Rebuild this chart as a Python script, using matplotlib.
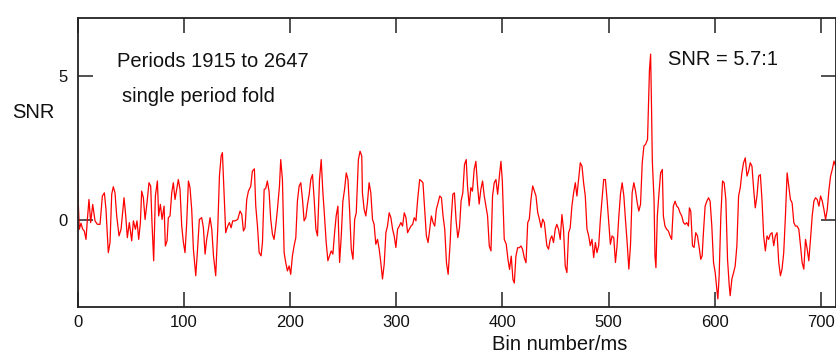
import matplotlib
matplotlib.use("Agg")
import matplotlib.pyplot as plt
from matplotlib import font_manager

# folded profile (bin, SNR)
bins = [
    0, 0.3, 1.7, 3.3, 4.9, 6.4, 8.0, 9.3, 10.8, 12.4, 14.3, 16.5, 18.7, 21.2, 23.4, 25.3, 26.8,
    29.0, 30.6, 32.2, 33.7, 35.3, 36.9, 39.1, 41.0, 42.5, 43.8, 45.4, 46.9, 48.8, 51.0, 52.6,
    54.5, 56.0, 57.6, 59.2, 60.4, 62.0, 63.6, 65.4, 67.3, 68.9, 70.1, 71.7, 73.3, 75.2, 76.4,
    78.0, 79.6, 81.5, 82.7, 84.3,
    85.5, 87.1, 88.7, 90.2, 91.8, 93.4, 94.9, 96.5, 98.1, 99.7, 101.2, 102.8, 104.4, 105.9,
    107.5, 109.1, 111.3, 112.8, 114.7, 116.9, 118.5, 120.1, 121.6, 123.2, 124.8, 126.4, 128.0,
    130.1, 132.0, 133.6, 135.2, 136.4, 138.0, 139.5, 141.4, 143.0, 144.6, 146.1, 148.3, 150.8,
    153.0, 154.6, 156.2, 157.7, 159.3, 160.9, 163.1, 164.6, 166.5, 167.8, 169.4, 171.0, 172.8,
    174.1, 175.7,
    177.2, 178.7, 180.3, 181.9, 183.5, 185.0, 186.6, 188.2, 190.1, 191.3, 192.9, 194.5, 196.0,
    197.6, 199.2, 200.7, 202.3, 203.9, 205.5, 207.0, 208.6, 210.2, 211.8, 213.3, 214.9, 216.5,
    218.1, 219.6, 221.2, 222.8, 224.4, 225.9, 227.8, 229.4, 231.0, 232.5, 234.1, 235.7, 237.3,
    238.8, 240.4, 242.0, 243.5, 245.1, 246.7, 248.3, 249.8, 251.4, 253.0, 254.6, 256.1, 257.7,
    259.3, 260.9, 262.4,
    264.4, 266.0, 267.6, 268.2, 269.8, 271.4, 272.9, 274.5, 276.1, 277.7, 279.2, 280.8, 282.4,
    284.0, 285.5, 287.1, 288.7, 290.3, 291.8, 293.4, 295.0, 296.6, 298.1, 299.7, 301.3, 302.9,
    304.4, 306.0, 307.6, 309.2, 310.7, 312.3, 313.9, 315.5, 317.0, 318.6, 320.2, 322.1, 323.7,
    325.2, 326.8, 328.4, 330.0, 331.5, 333.1, 334.7, 336.3, 337.8, 339.4, 341.0, 342.6, 344.1,
    345.7, 347.3, 348.9,
    350.8, 351.7, 353.3, 354.8, 356.4, 358.0, 359.6, 361.1, 362.7, 364.3, 365.9, 367.1, 368.7,
    370.3, 371.8, 373.4, 375.0, 376.6, 378.1, 379.7, 381.3, 382.9, 384.4, 386.0, 387.6, 389.2,
    390.7, 392.3, 393.9, 395.5, 397.3, 398.6, 399.9, 401.7, 403.6, 405.2, 406.7, 408.3, 409.9,
    411.2, 412.7, 414.3, 415.9, 417.5, 419.0, 420.6, 422.2, 423.8, 425.3, 426.9, 428.5, 430.1,
    431.6, 433.2, 434.8, 436.4, 437.9, 439.5,
    441.8, 443.4, 445.0, 446.5, 448.1, 449.7, 451.2, 452.8, 454.4, 456.0, 457.5, 459.1, 460.7,
    462.3, 463.8, 465.4, 467.0, 468.6, 470.1, 471.7, 473.3, 474.9, 476.4, 478.0, 479.6, 481.2,
    482.7, 484.3, 485.9, 487.5, 489.0, 490.6, 492.2, 493.8, 495.3, 496.9, 498.5, 500.1, 501.6,
    503.2, 504.8, 506.4, 507.9, 509.5, 511.1, 512.7, 514.3, 515.8, 517.4, 519.0, 520.6, 522.1,
    523.7, 525.3, 526.9, 528.4, 530.0, 531.6, 533.2, 534.8,
    536.6, 537.6, 538.4, 539.5, 540.4, 541.1,
    542.7, 543.6, 544.5, 545.8, 547.4, 548.9, 550.5, 551.5, 553.0, 554.6, 556.2, 557.8, 559.3,
    560.9, 562.5, 564.1, 565.6, 567.2, 568.8, 570.4, 571.9, 573.5, 575.1, 576.0, 577.3, 578.9,
    580.4, 582.0, 583.6, 585.2, 586.7, 588.0, 589.2, 590.8, 592.4, 594.0, 595.5, 597.1, 598.7,
    600.3, 601.8, 602.8, 604.0, 605.6, 607.2, 608.7, 610.3, 611.9, 613.5, 614.4, 616.0, 617.6,
    619.1, 620.7, 622.3, 623.9, 625.4, 627.0, 628.6, 630.2, 631.7, 633.3, 634.9, 636.5, 638.0,
    639.6, 641.2, 642.8, 644.3, 645.9, 647.5, 649.1, 650.6, 652.2, 653.8, 655.4, 656.9, 658.5,
    660.1, 661.7, 663.2, 664.8, 666.4, 668.0, 669.5, 671.1, 672.7, 674.3, 675.8, 677.4, 679.0,
    680.6, 682.1, 683.7, 685.3, 686.9, 688.4, 690.0, 691.6, 693.2, 694.7, 696.3, 697.9, 699.5,
    701.1, 702.6, 704.2, 705.8, 707.4, 708.9, 710.5, 712.1, 713.7, 714.6,
]
snr = [
    1.87, 1.01, -0.31, -0.10, -0.31, -0.37, -0.66, 0.03, 0.72, -0.08, 0.55, -0.02, -0.14, -0.14, 0.84, 0.95, 0.38,
    -1.12, -0.77, 0.90, 1.16, 0.95, 0.15, -0.54, -0.31, 0.26, 0.78, 0.15, -0.60, -0.08, -0.71, -0.02,
    -0.31, -0.02, -0.66, -0.08, 1.01, 0.78, 0.03, 0.60, 1.30, 1.18, -0.08, -1.40, 0.84, 1.36, 0.15,
    0.55, 0.03, 0.49, -0.89, -0.71,
    0.09, 0.15, 0.95, 1.30, 0.72, 1.07, 1.41, 1.07, -0.20, -0.77, -1.12, -0.08, 1.36, 1.13,
    0.38, -1.00, -1.92, -1.12, 0.03, 0.09, -0.26, -1.17, -0.66, -0.31, 0.09, -0.31, -1.23,
    -1.92, -0.31, 1.53, 2.22, 2.34, 0.95, -0.43, -0.20, -0.08, -0.26, -0.02, -0.02, 0.03,
    0.32, 0.21, -0.37, -0.26, 0.72, 1.01, 1.18, 1.70, 1.78, 0.49, -0.20, -1.12, -1.23,
    -0.77, 1.07,
    1.10, 1.36, 1.01, 0.03, -0.48, -0.66, -0.20, 0.38, 1.18, 2.10, 1.41, -1.12, -1.46,
    -1.75, -1.58, -1.87, -1.23, -0.88, -0.60, 0.66, 1.18, 1.30, 0.72, -0.02, 0.09, 0.55,
    0.90, 1.41, 1.58, 0.72, -0.31, -0.54, 1.41, 2.10, 0.95, 0.15, -0.77, -1.40, -1.23,
    -1.06, -1.17, -0.43, 0.15, 0.49, -1.46, -0.54, 0.66, 1.07, 1.64, 1.41, 0.38, -1.00,
    -1.35, 0.03, 0.26,
    2.10, 2.39, 2.22, 0.95, 0.38, 0.15, 0.60, 1.30, 0.95, 0.03, -0.14, -0.83, -0.66,
    -1.00, -1.46, -2.03, -1.52, -0.43, -0.20, 0.26, 0.09, -0.31, -0.54, -0.94, -0.31, -0.20,
    -0.08, -0.20, 0.26, 0.09, -0.43, -0.31, -0.20, -0.14, 0.09, -0.02, 0.72, 1.41, 1.36,
    1.30, 0.38, -0.54, -0.77, -0.31, 0.15, -0.08, -0.20, 0.38, 0.60, 0.84, 0.78, 0.15,
    -0.31, -1.46, -1.87,
    -0.77, -0.02, 0.90, 0.95, -0.02, -0.60, -0.25, 0.67, 0.95, 1.93, 2.10, 1.19, 0.50,
    1.13, 1.01, 1.76, 2.04, 1.19, 0.56, 1.07, 1.36, 0.84, 0.50, 0.15, -0.89, -1.06,
    0.84, 1.30, 1.41, 0.90, 1.59, 2.04, 1.36, -0.66, -0.83, -1.35, -1.70, -1.24, -2.05,
    -2.17, -1.24, -0.95, -0.95, -0.89, -1.01, -1.30, -1.47, -0.08, 0.04, 0.73, 1.19, 1.01,
    0.84, 0.27, 0.04, -0.25, 0.04, -0.08,
    -0.88, -1.00, -0.66, -0.54, -0.77, -0.31, -0.14, -0.31, -0.66, 0.20, -0.31, -1.58, -1.81,
    -0.43, -0.26, 0.49, 0.95, 1.30, 0.84, 1.41, 1.99, 1.87, 1.30, 0.84, -0.31, -0.54,
    -0.88, -0.66, -1.29, -0.77, -1.12, -0.88, 0.03, 0.72, 1.41, 1.41, 0.72, -0.08, -0.83,
    -0.54, -0.60, -1.46, -0.88, 0.09, 0.90, 1.30, 0.84, 0.03, -0.77, -1.69, -0.83, 0.95,
    1.30, 1.01, 0.60, 0.32, 0.55, 1.99, 2.57, 2.63,
    2.80, 4.20, 5.20, 5.75, 3.80, 2.05,
    0.72, -1.23, -1.64, 0.15, 0.95, 1.64, 1.76, 0.15, -0.20, -0.31, -0.37, -0.54, -0.66,
    0.49, 0.66, 0.49, 0.43, 0.26, 0.15, -0.08, -0.14, -0.08, -0.20, 0.43, 0.32, -0.88,
    -0.94, -0.43, -0.54, -0.94, -1.35, -1.23, -0.43, 0.49, 0.66, 0.78, 0.66, -0.20, -1.46,
    -1.81, -2.38, -2.72, -1.92, 0.15, 1.36, 1.30, 0.72, -1.35, -2.26, -2.61, -2.03, -1.81,
    -1.58, -0.88, 0.84, 1.13, 1.64, 1.99, 2.16, 1.53, 1.70, 1.99, 1.87, 1.07, 0.43,
    0.84, 1.53, 1.58, 0.72, -0.54, -1.06, -0.54, -0.66, -0.48, -0.43, -0.88, -0.54, -0.43,
    -1.46, -1.92, -1.69, -1.12, 0.15, 1.64, 1.18, 0.72, 0.60, -0.08, -0.20, -0.20, -0.31,
    -0.88, -1.46, -1.69, -0.66, -1.00, -1.40, -0.66, 0.15, 0.66, 0.78, 0.72, 0.49, 0.84,
    0.66, 0.38, 0.03, 0.38, 1.07, 1.53, 1.76, 2.05, 1.87, 2.10,
]

xticks = [0, 100, 200, 300, 400, 500, 600, 700]
yticks = [0, 5]

# narrow face for the tick numbers if it is there
names = {f.name for f in font_manager.fontManager.ttflist}
if 'Liberation Sans Narrow' in names:
    tick_font, tick_size = 'Liberation Sans Narrow', 14
else:
    tick_font, tick_size = 'Liberation Sans', 12

fig = plt.figure(figsize=(8.37, 3.54), dpi=100)
ax = fig.add_axes([0.0926, 0.1328, 0.9062, 0.8164])

ax.plot(bins, snr, color='#ff0000', linewidth=0.9)

ax.set_xlim(0, 714)
ax.set_ylim(-3, 7)
ax.set_xticks(xticks)
ax.set_yticks(yticks)
ax.tick_params(direction='in', length=11, width=1.1, color='#222222',
               top=True, right=True, pad=5.5)
ax.tick_params(axis='y', pad=6.8)
for lab in ax.get_xticklabels() + ax.get_yticklabels():
    lab.set_family(tick_font)
    lab.set_fontsize(tick_size)
    lab.set_color('#111111')
for sp in ax.spines.values():
    sp.set_linewidth(1.3)
    sp.set_color('#222222')

txt = dict(family='Liberation Sans', fontsize=14.5, color='#111111', va='baseline')
ax.text(0.052, 0.830, 'Periods 1915 to 2647', transform=ax.transAxes, **txt)
ax.text(0.0587, 0.709, 'single period fold', transform=ax.transAxes, **txt)
ax.text(0.7785, 0.837, 'SNR = 5.7:1', transform=ax.transAxes, **txt)

fig.text(12 / 837, 1 - 118 / 354, 'SNR', family='Liberation Sans', fontsize=14.5,
         color='#111111', va='baseline', ha='left')
fig.text(560 / 837, 4 / 354, 'Bin number/ms', family='Liberation Sans', fontsize=14.5,
         color='#111111', va='baseline', ha='center')

fig.savefig('out.png', dpi=100)
